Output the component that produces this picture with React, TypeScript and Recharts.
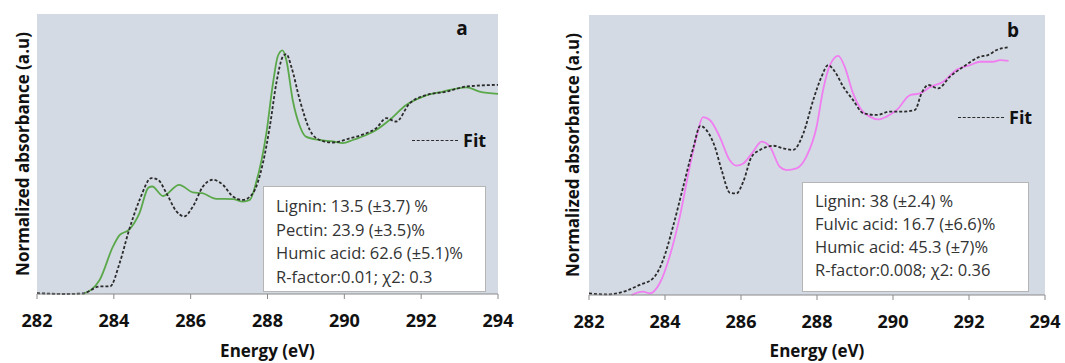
import { CartesianGrid, Line, LineChart, XAxis, YAxis } from "recharts";

// panel a: sample (green) and fit (dashed)
const aSampleE = [283.2, 283.63, 283.98, 284.15, 284.4, 284.67, 284.9, 285.0, 285.28, 285.7, 286.06, 286.3, 286.67, 287.1, 287.36, 287.54, 287.7, 287.97, 288.14, 288.27, 288.39, 288.49, 288.66, 288.84, 289.0, 289.36, 289.7, 289.96, 290.22, 290.57, 290.83, 291.18, 291.61, 292.05, 292.57, 293.18, 293.52, 294.0];
const aSampleV = [0.0, 0.05, 0.17, 0.21, 0.23, 0.29, 0.38, 0.384, 0.35, 0.39, 0.363, 0.36, 0.34, 0.339, 0.33, 0.336, 0.396, 0.574, 0.75, 0.85, 0.87, 0.836, 0.69, 0.6, 0.562, 0.55, 0.545, 0.539, 0.55, 0.568, 0.586, 0.622, 0.675, 0.705, 0.723, 0.738, 0.723, 0.715];
const aFitE = [282.0, 282.76, 283.2, 283.63, 283.9, 284.15, 284.4, 284.67, 284.98, 285.15, 285.37, 285.63, 285.83, 286.06, 286.32, 286.58, 286.84, 287.1, 287.36, 287.62, 287.88, 288.06, 288.23, 288.4, 288.49, 288.62, 288.84, 289.1, 289.36, 289.7, 290.14, 290.57, 290.83, 291.09, 291.35, 291.7, 292.05, 292.66, 293.18, 294.0];
const aFitV = [0.003, 0.0, 0.002, 0.027, 0.027, 0.11, 0.23, 0.336, 0.414, 0.408, 0.36, 0.295, 0.277, 0.313, 0.384, 0.408, 0.39, 0.348, 0.336, 0.36, 0.467, 0.598, 0.753, 0.848, 0.857, 0.812, 0.693, 0.586, 0.55, 0.541, 0.556, 0.574, 0.592, 0.628, 0.616, 0.681, 0.707, 0.723, 0.741, 0.747];

// panel b: sample (pink) and fit (dashed)
const bSampleE = [283.12, 283.42, 283.6, 283.86, 284.12, 284.39, 284.65, 284.83, 285.0, 285.18, 285.44, 285.7, 285.88, 286.06, 286.32, 286.54, 286.76, 287.02, 287.2, 287.46, 287.72, 287.99, 288.16, 288.34, 288.56, 288.73, 288.95, 289.17, 289.39, 289.61, 289.83, 290.1, 290.45, 290.71, 290.97, 291.32, 291.67, 292.03, 292.29, 292.64, 292.82, 293.04];
const bSampleV = [0.0, 0.012, 0.006, 0.042, 0.137, 0.28, 0.458, 0.565, 0.635, 0.625, 0.565, 0.482, 0.462, 0.47, 0.512, 0.548, 0.53, 0.458, 0.446, 0.452, 0.494, 0.601, 0.732, 0.821, 0.854, 0.815, 0.72, 0.661, 0.637, 0.627, 0.637, 0.661, 0.714, 0.72, 0.742, 0.762, 0.804, 0.821, 0.833, 0.833, 0.839, 0.836];
const bFitE = [282.0, 282.46, 282.98, 283.33, 283.69, 283.95, 284.21, 284.48, 284.74, 284.93, 285.09, 285.31, 285.49, 285.71, 285.88, 286.06, 286.28, 286.5, 286.85, 287.11, 287.37, 287.64, 287.9, 288.12, 288.29, 288.47, 288.69, 288.95, 289.22, 289.57, 289.92, 290.27, 290.58, 290.75, 290.93, 291.19, 291.5, 291.85, 292.29, 292.5, 292.73, 293.04];
const bFitV = [0.006, 0.002, 0.015, 0.036, 0.06, 0.125, 0.244, 0.387, 0.524, 0.604, 0.589, 0.53, 0.446, 0.365, 0.363, 0.405, 0.494, 0.518, 0.533, 0.524, 0.518, 0.577, 0.696, 0.78, 0.821, 0.798, 0.744, 0.696, 0.649, 0.643, 0.655, 0.655, 0.661, 0.72, 0.75, 0.738, 0.78, 0.815, 0.851, 0.857, 0.875, 0.885];

const energyTicks = [282, 284, 286, 288, 290, 292, 294];
const aNotes = ["Lignin: 13.5 (±3.7) %", "Pectin: 23.9 (±3.5)%", "Humic acid: 62.6 (±5.1)%", "R-factor:0.01; χ2: 0.3"];
const bNotes = ["Lignin: 38 (±2.4) %", "Fulvic acid: 16.7 (±6.6)%", "Humic acid: 45.3 (±7)%", "R-factor:0.008; χ2: 0.36"];

const zip = (xs: number[], ys: number[]) => xs.map((x, i) => ({ x, y: ys[i] }));

const FONT = "'Open Sans', 'Noto Sans', sans-serif";

interface PanelProps {
  left: number;
  width: number;
  yAxisWidth: number;
  top: number;
  right: number;
  axisHeight: number;
  labelDx: number;
  sample: { x: number; y: number }[];
  fit: { x: number; y: number }[];
  color: string;
}

function Panel({ left, width, yAxisWidth, top, right, axisHeight, labelDx, sample, fit, color }: PanelProps) {
  return (
    <div style={{ position: "absolute", left, top: 0 }}>
      <LineChart width={width} height={363} margin={{ top, right, bottom: 0, left: 0 }}>
        <CartesianGrid horizontal={false} vertical={false} fill="#d3dae4" stroke="#c6ccd6" />
        <XAxis
          dataKey="x"
          type="number"
          domain={[282, 294]}
          ticks={energyTicks}
          allowDataOverflow
          height={axisHeight}
          stroke="#8a8a8a"
          tickSize={5}
          tickMargin={15}
          tick={{ fontFamily: FONT, fontSize: 18, fontWeight: 700, fill: "#111" }}
          label={{
            value: "Energy (eV)",
            position: "insideBottom",
            offset: 6,
            style: { fontFamily: FONT, fontSize: 17, fontWeight: 700, fill: "#111" },
          }}
        />
        <YAxis
          type="number"
          domain={[0, 1]}
          width={yAxisWidth}
          tick={false}
          axisLine={false}
          tickLine={false}
          label={{
            value: "Normalized absorbance (a.u)",
            angle: -90,
            position: "center",
            dx: labelDx,
            style: { fontFamily: FONT, fontSize: 17, fontWeight: 700, fill: "#111" },
          }}
        />
        <Line data={sample} dataKey="y" type="monotone" stroke={color} strokeWidth={1.8} dot={false} isAnimationActive={false} />
        <Line data={fit} dataKey="y" type="monotone" stroke="#2b2b2b" strokeWidth={1.8} strokeDasharray="3 2" dot={false} isAnimationActive={false} />
      </LineChart>
    </div>
  );
}

function NoteBox({ x, y, w, h, pad, lineH, lines }: { x: number; y: number; w: number; h: number; pad: number; lineH: number; lines: string[] }) {
  return (
    <div
      style={{
        position: "absolute",
        left: x,
        top: y,
        width: w,
        height: h,
        boxSizing: "border-box",
        background: "#fff",
        border: "1px solid #b5b5b5",
        padding: `${pad}px 0 0 12px`,
        fontFamily: FONT,
        fontSize: 16.5,
        lineHeight: `${lineH}px`,
        color: "#333",
        whiteSpace: "nowrap",
      }}
    >
      {lines.map((l) => (
        <div key={l}>{l}</div>
      ))}
    </div>
  );
}

function FitKey({ x, y }: { x: number; y: number }) {
  return (
    <div style={{ position: "absolute", left: x, top: y - 12, height: 24, display: "flex", alignItems: "center" }}>
      <div style={{ width: 46, borderTop: "1.6px dashed #2b2b2b", marginRight: 5 }} />
      <span style={{ fontFamily: FONT, fontSize: 18, fontWeight: 700, color: "#111" }}>Fit</span>
    </div>
  );
}

function Tag({ x, y, text }: { x: number; y: number; text: string }) {
  return (
    <div
      style={{
        position: "absolute",
        left: x - 10,
        top: y - 13,
        width: 20,
        height: 26,
        lineHeight: "26px",
        textAlign: "center",
        fontFamily: FONT,
        fontSize: 19,
        fontWeight: 700,
        color: "#111",
      }}
    >
      {text}
    </div>
  );
}

export default function App() {
  return (
    <div style={{ position: "absolute", left: 0, top: 0, width: 1065, height: 363, background: "#fff", overflow: "hidden" }}>
      <Panel left={0} width={520} yAxisWidth={37} top={14} right={22} axisHeight={69} labelDx={4} sample={zip(aSampleE, aSampleV)} fit={zip(aFitE, aFitV)} color="#5aa84a" />
      <Panel left={540} width={525} yAxisWidth={49} top={15} right={20} axisHeight={68} labelDx={8} sample={zip(bSampleE, bSampleV)} fit={zip(bFitE, bFitV)} color="#f07ef0" />
      <NoteBox x={263} y={186} w={223} h={106} pad={7} lineH={23.5} lines={aNotes} />
      <NoteBox x={802} y={182} w={227} h={110} pad={6} lineH={23} lines={bNotes} />
      <FitKey x={412} y={140} />
      <FitKey x={958} y={117} />
      <Tag x={462} y={28} text="a" />
      <Tag x={1013} y={30} text="b" />
    </div>
  );
}
